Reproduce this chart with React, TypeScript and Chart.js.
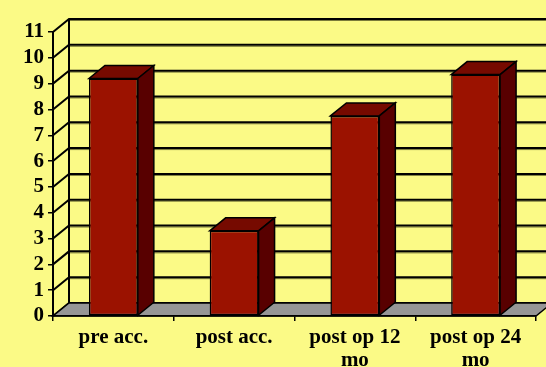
import React, { useEffect, useRef } from "react";
import { Chart, registerables } from "chart.js";

Chart.register(...registerables);

const categories: (string | string[])[] = [
  "pre acc.",
  "post acc.",
  ["post op 12", "mo"],
  ["post op 24", "mo"],
];
const values: number[] = [9.2, 3.3, 7.75, 9.35];
const yMin = 0;
const yMax = 11;
const yStep = 1;

const BG = "rgb(251,250,134)";
const FRONT = "rgb(155,18,0)";
const TOP = "rgb(118,10,0)";
const SIDE = "rgb(88,0,0)";
const FLOOR = "rgb(150,150,150)";
const DX = 16;
const DY = 13;
const FONT = { family: "'Times New Roman', 'Liberation Serif', serif", size: 21, weight: "bold" as const };

const depthPlugin = {
  id: "depth3d",
  beforeDraw(chart: any) {
    const { ctx, chartArea: a, scales } = chart;
    const y = scales.y;
    ctx.save();
    ctx.fillStyle = BG;
    ctx.fillRect(0, 0, chart.width, chart.height);
    const y0 = y.getPixelForValue(yMin);
    for (const t of y.ticks) {
      const py = y.getPixelForValue(t.value);
      ctx.beginPath();
      ctx.moveTo(a.left + DX, py - DY + 1.5);
      ctx.lineTo(chart.width + DX, py - DY + 1.5);
      ctx.strokeStyle = "rgba(90,90,40,0.8)";
      ctx.lineWidth = 1;
      ctx.stroke();
      ctx.beginPath();
      ctx.moveTo(a.left, py);
      ctx.lineTo(a.left + DX, py - DY);
      ctx.lineTo(chart.width + DX, py - DY);
      ctx.strokeStyle = "#000";
      ctx.lineWidth = 2;
      ctx.stroke();
    }
    ctx.beginPath();
    ctx.moveTo(a.left + DX, y.getPixelForValue(yMax) - DY);
    ctx.lineTo(a.left + DX, y0 - DY);
    ctx.strokeStyle = "#000";
    ctx.lineWidth = 2;
    ctx.stroke();
    ctx.beginPath();
    ctx.moveTo(a.left, y0);
    ctx.lineTo(a.left + DX, y0 - DY);
    ctx.lineTo(a.right + DX, y0 - DY);
    ctx.lineTo(a.right, y0);
    ctx.closePath();
    ctx.fillStyle = FLOOR;
    ctx.fill();
    ctx.lineWidth = 1.5;
    ctx.strokeStyle = "#000";
    ctx.stroke();
    ctx.restore();
  },
  afterDatasetsDraw(chart: any) {
    const { ctx } = chart;
    const meta = chart.getDatasetMeta(0);
    ctx.save();
    ctx.lineWidth = 1.5;
    ctx.strokeStyle = "#000";
    ctx.lineJoin = "miter";
    for (const el of meta.data) {
      const p = el.getProps(["x", "y", "base", "width"], true);
      const l = p.x - p.width / 2;
      const r = p.x + p.width / 2;
      const top = p.y;
      const base = p.base;
      ctx.beginPath();
      ctx.moveTo(l, top);
      ctx.lineTo(l + DX, top - DY);
      ctx.lineTo(r + DX, top - DY);
      ctx.lineTo(r, top);
      ctx.closePath();
      ctx.fillStyle = TOP;
      ctx.fill();
      ctx.stroke();
      ctx.beginPath();
      ctx.moveTo(r, top);
      ctx.lineTo(r + DX, top - DY);
      ctx.lineTo(r + DX, base - DY);
      ctx.lineTo(r, base);
      ctx.closePath();
      ctx.fillStyle = SIDE;
      ctx.fill();
      ctx.stroke();
    }
    ctx.restore();
  },
};

export default function App() {
  const ref = useRef<HTMLCanvasElement | null>(null);
  useEffect(() => {
    if (!ref.current) return;
    const chart = new Chart(ref.current, {
      type: "bar",
      data: {
        labels: categories,
        datasets: [
          {
            data: values,
            backgroundColor: FRONT,
            borderColor: "#000",
            borderWidth: 1.5,
            borderSkipped: false,
            categoryPercentage: 1,
            barPercentage: 0.405,
          },
        ],
      },
      options: {
        responsive: false,
        animation: false,
        layout: { padding: { top: 32, right: 10, left: 0, bottom: 0 } },
        plugins: { legend: { display: false }, tooltip: { enabled: false } },
        scales: {
          x: {
            offset: true,
            grid: {
              display: true,
              offset: true,
              drawOnChartArea: false,
              drawTicks: true,
              tickLength: 5,
              color: "#000",
              lineWidth: 1.5,
            },
            border: { display: true, color: "#000", width: 1.5 },
            ticks: {
              color: "#000",
              font: { ...FONT, lineHeight: 1.1 },
              padding: 5,
              maxRotation: 0,
              autoSkip: false,
            },
            afterFit: (s: any) => {
              s.height = 51;
            },
          },
          y: {
            min: yMin,
            max: yMax,
            grid: {
              display: true,
              drawOnChartArea: false,
              drawTicks: true,
              tickLength: 5,
              color: "#000",
              lineWidth: 1.5,
            },
            border: { display: true, color: "#000", width: 2 },
            ticks: {
              stepSize: yStep,
              autoSkip: false,
              color: "#000",
              font: FONT,
              padding: 4,
            },
            afterFit: (s: any) => {
              s.width = 53;
            },
          },
        },
      },
      plugins: [depthPlugin],
    });
    return () => chart.destroy();
  }, []);
  return (
    <div style={{ position: "fixed", left: 0, top: 0, width: 546, height: 367 }}>
      <canvas ref={ref} width={546} height={367} />
    </div>
  );
}
